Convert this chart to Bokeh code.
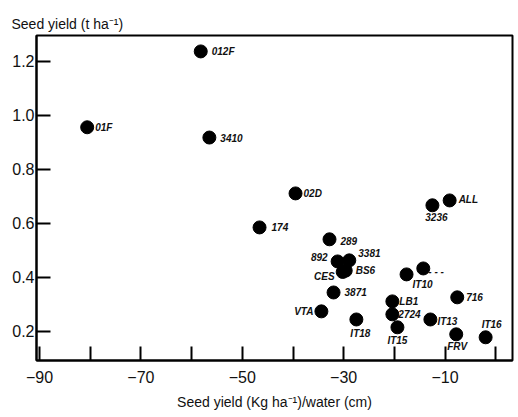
from bokeh.plotting import figure
from bokeh.models import ColumnDataSource, FixedTicker, Range1d, NumeralTickFormatter
from bokeh.core.properties import value
from bokeh.embed import file_html
from bokeh.resources import INLINE

# Data
labels = ["01F", "012F", "3410", "02D", "174", "ALL", "3236", "289", "892", "3381",
          "BS6", "CES", "3871", "VTA", "IT18", "LB1", "2724", "IT15", "IT10", "- - -",
          "IT13", "716", "FRV", "IT16"]
wue = [-80.6, -58.2, -56.5, -39.5, -46.6, -9.1, -12.5, -32.8, -31.2, -28.9,
       -29.6, -30.2, -32.0, -34.4, -27.5, -20.4, -20.4, -19.4, -17.6, -14.3,
       -12.9, -7.6, -7.8, -2.0]
seed_yield = [0.956, 1.237, 0.918, 0.711, 0.585, 0.685, 0.667, 0.541, 0.459, 0.463,
              0.425, 0.420, 0.344, 0.274, 0.244, 0.311, 0.263, 0.215, 0.411, 0.433,
              0.244, 0.326, 0.189, 0.178]
x_ticks = [-90, -80, -70, -60, -50, -40, -30, -20, -10, 0]
x_tick_labels = {-90: "\u221290", -80: "", -70: "\u221270", -60: "", -50: "\u221250",
                 -40: "", -30: "\u221230", -20: "", -10: "\u221210", 0: ""}
y_ticks = [0.2, 0.4, 0.6, 0.8, 1.0, 1.2]

# Label placement (screen pixels) - styling only
label_dx = [8, 11, 11, 8, 12, 9, 4, 11, -10, 9, 10, -8, 11, -8, 4, 7, 6, 0, 16, 5, 7, 9, 1, 6]
label_dy = [0, 0, 0, 0, 0, -1, 12, 2, -4, -7, 0, 5, 0, 0, 14, 0, 0, 13, 10, 3, 2, 0, 12, -13]
label_align = ["left", "left", "left", "left", "left", "left", "center", "left", "right", "left",
               "left", "right", "left", "right", "center", "left", "left", "center", "center", "left",
               "left", "left", "center", "center"]

src = ColumnDataSource(dict(x=wue, y=seed_yield, lab=labels, dx=label_dx, dy=label_dy, al=label_align))

p = figure(width=518, height=417, output_backend="svg", toolbar_location=None,
           x_range=Range1d(-90.6, 3.3), y_range=Range1d(0.092, 1.296),
           min_border_left=36, min_border_right=6, min_border_top=35, min_border_bottom=57,
           title="Seed yield (t ha\u207b\u00b9)")

p.title.text_font = "Liberation Sans"
p.title.text_font_size = "14px"
p.title.text_font_style = "normal"
p.title.text_color = "#111111"
p.title.align = "left"
p.title.offset = -25
p.title.standoff = 8

p.xgrid.visible = False
p.ygrid.visible = False
p.outline_line_color = "black"
p.outline_line_width = 2
p.outline_line_alpha = 1
p.background_fill_color = "white"
p.border_fill_color = "white"

p.scatter("x", "y", source=src, size=13, color="black")
p.text("x", "y", text="lab", source=src, x_offset="dx", y_offset="dy", text_align="al",
       text_baseline="middle", text_font=value("Liberation Sans"), text_font_size="10px",
       text_font_style="bold italic", text_color="#111111")

for ax in (p.xaxis[0], p.yaxis[0]):
    ax.axis_line_color = "black"
    ax.axis_line_width = 2
    ax.major_tick_line_color = "black"
    ax.major_tick_line_width = 2
    ax.major_tick_in = 14
    ax.major_tick_out = 0
    ax.minor_tick_line_color = None
    ax.major_label_text_font = "Liberation Sans"
    ax.major_label_text_font_size = "16px"
    ax.major_label_text_color = "#111111"

p.xaxis.ticker = FixedTicker(ticks=x_ticks)
p.xaxis.major_label_overrides = x_tick_labels
p.xaxis.major_label_standoff = 10
p.xaxis.axis_label = "Seed yield (Kg ha\u207b\u00b9)/water (cm)"
p.xaxis.axis_label_text_font = "Liberation Sans"
p.xaxis.axis_label_text_font_size = "14px"
p.xaxis.axis_label_text_font_style = "normal"
p.xaxis.axis_label_text_color = "#111111"
p.xaxis.axis_label_standoff = 8

p.yaxis.ticker = FixedTicker(ticks=y_ticks)
p.yaxis.formatter = NumeralTickFormatter(format="0.0")
p.yaxis.major_label_standoff = 2

open("out.html", "w").write(file_html(p, INLINE))
